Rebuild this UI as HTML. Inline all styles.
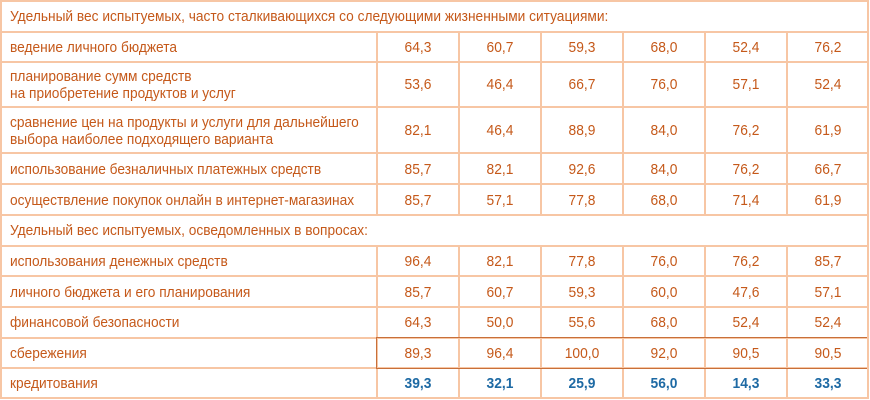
<!DOCTYPE html>
<html><head><meta charset="utf-8"><style>
body{margin:0;background:#fff;}
#w{position:relative;width:870px;height:400px;overflow:hidden;font-family:"Liberation Sans",sans-serif;font-size:15px;color:#c5591a;}
.h{position:absolute;left:0;width:868px;height:2px;background:#f7c6a4;}
.v{position:absolute;width:2px;background:#f7c6a4;}
.t{position:absolute;left:10px;white-space:nowrap;line-height:17px;transform:scaleX(0.915);transform-origin:0 0;}
.n{position:absolute;width:82px;text-align:center;line-height:17px;transform:scaleX(0.92);}
.b{color:#1e6aa4;font-weight:bold;}
</style></head><body><div id="w">
<div class="h" style="top:0"></div>
<div class="h" style="top:31px"></div>
<div class="h" style="top:61px"></div>
<div class="h" style="top:106px"></div>
<div class="h" style="top:152px"></div>
<div class="h" style="top:183px"></div>
<div class="h" style="top:214px"></div>
<div class="h" style="top:245px"></div>
<div class="h" style="top:275px"></div>
<div class="h" style="top:306px"></div>
<div class="h" style="top:337px"></div>
<div class="h" style="top:367px"></div>
<div class="h" style="top:397px"></div>
<div class="v" style="left:0;top:0;height:399px"></div>
<div class="v" style="left:867px;top:0;height:399px"></div>
<div id="vl"></div>
<div class="t" style="top:8px">Удельный вес испытуемых, часто сталкивающихся со следующими жизненными ситуациями:</div>
<div class="t" style="top:39px">ведение личного бюджета</div>
<div class="t" style="top:68px">планирование сумм средств<br>на приобретение продуктов и услуг</div>
<div class="t" style="top:114px">сравнение цен на продукты и услуги для дальнейшего<br>выбора наиболее подходящего варианта</div>
<div class="t" style="top:161px">использование безналичных платежных средств</div>
<div class="t" style="top:192px">осуществление покупок онлайн в интернет-магазинах</div>
<div class="t" style="top:222px">Удельный вес испытуемых, осведомленных в вопросах:</div>
<div class="t" style="top:253px">использования денежных средств</div>
<div class="t" style="top:284px">личного бюджета и его планирования</div>
<div class="t" style="top:314px">финансовой безопасности</div>
<div class="t" style="top:345px">сбережения</div>
<div class="t" style="top:375px">кредитования</div>
<div style="position:absolute;left:376px;top:337px;width:490px;height:30px;border-top:1px solid #c8703a;border-bottom:1px solid #c8703a;border-left:1px solid #c8703a;"></div>
<script>
var lines=[376,458,540,622,704,786];
var segs=[[31,214],[245,397]];
var h='';
lines.forEach(function(x){segs.forEach(function(s){h+='<div class="v" style="left:'+x+'px;top:'+s[0]+'px;height:'+(s[1]-s[0]+2)+'px"></div>';});});
var rows=[[39,['64,3','60,7','59,3','68,0','52,4','76,2']],[76,['53,6','46,4','66,7','76,0','57,1','52,4']],[122,['82,1','46,4','88,9','84,0','76,2','61,9']],[161,['85,7','82,1','92,6','84,0','76,2','66,7']],[192,['85,7','57,1','77,8','68,0','71,4','61,9']],[253,['96,4','82,1','77,8','76,0','76,2','85,7']],[284,['85,7','60,7','59,3','60,0','47,6','57,1']],[314,['64,3','50,0','55,6','68,0','52,4','52,4']],[345,['89,3','96,4','100,0','92,0','90,5','90,5']],[375,['39,3','32,1','25,9','56,0','14,3','33,3'],1]];
rows.forEach(function(r){r[1].forEach(function(v,i){h+='<div class="n'+(r[2]?' b':'')+'" style="left:'+(lines[i]+1)+'px;top:'+r[0]+'px">'+v+'</div>';});});
document.getElementById('vl').innerHTML=h;
</script>
</div></body></html>
